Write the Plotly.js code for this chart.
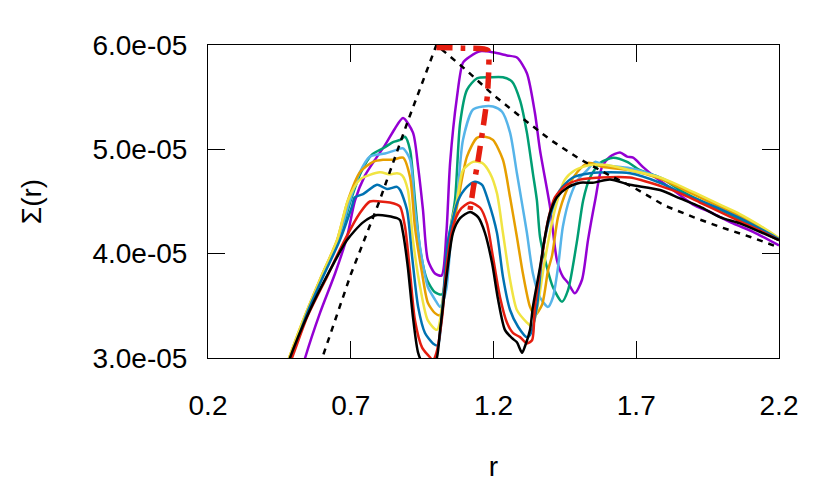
<!DOCTYPE html>
<html>
<head>
<meta charset="utf-8">
<script src="https://cdn.plot.ly/plotly-3.0.1.min.js"></script>
<style>html,body{margin:0;padding:0;background:#fff;}#plot{width:830px;height:498px;}</style>
</head>
<body>
<div id="plot"></div>
<script>
// Sigma values in units of 1e-5
const xTickVals = [0.2, 0.7, 1.2, 1.7, 2.2];
const xTickText = ['0.2', '0.7', '1.2', '1.7', '2.2'];
const yTickVals = [3, 4, 5, 6];
const yTickText = ['3.0e-05', '4.0e-05', '5.0e-05', '6.0e-05'];

const rPurple = [0.52,0.54,0.592,0.645,0.687,0.715,0.75,0.785,0.82,0.855,0.883,0.918,0.936,0.953,0.97,0.995,1.018,1.035,1.048,1.072,1.093,1.118,1.153,1.198,1.247,1.282,1.317,1.345,1.363,1.398,1.422,1.443,1.461,1.485,1.51,1.531,1.556,1.58,1.608,1.643,1.668,1.689,1.724,1.759,1.829,1.899,1.958,2.039,2.109,2.2];
const sPurple = [2.80,3.00,3.43,3.81,4.16,4.51,4.75,4.90,5.04,5.20,5.30,5.16,4.83,4.42,3.94,3.81,3.79,4.20,4.87,5.50,5.83,5.89,5.94,5.93,5.90,5.88,5.73,5.35,4.99,4.45,3.94,3.78,3.72,3.62,3.75,4.13,4.51,4.83,4.93,4.97,4.93,4.92,4.83,4.75,4.61,4.47,4.40,4.29,4.21,4.08];

const rGreen = [0.47,0.491,0.543,0.599,0.659,0.70,0.736,0.774,0.82,0.848,0.873,0.89,0.908,0.925,0.943,0.967,0.995,1.02,1.04,1.065,1.083,1.107,1.142,1.188,1.233,1.265,1.293,1.317,1.338,1.352,1.363,1.387,1.408,1.44,1.461,1.493,1.514,1.538,1.573,1.619,1.668,1.713,1.783,1.853,1.923,2.018,2.109,2.2];
const sGreen = [2.85,3.00,3.39,3.77,4.13,4.51,4.78,4.95,5.02,5.07,5.09,5.12,4.99,4.51,4.04,3.75,3.63,3.61,4.10,4.51,5.25,5.57,5.68,5.69,5.69,5.65,5.47,5.16,4.77,4.51,4.16,3.87,3.68,3.54,3.65,4.13,4.51,4.73,4.87,4.92,4.88,4.80,4.73,4.61,4.51,4.39,4.26,4.13];

const rLightBlue = [0.47,0.487,0.54,0.596,0.655,0.697,0.732,0.767,0.82,0.855,0.883,0.908,0.925,0.95,0.97,0.995,1.013,1.034,1.051,1.072,1.093,1.128,1.163,1.198,1.23,1.258,1.282,1.30,1.317,1.338,1.363,1.391,1.408,1.426,1.443,1.468,1.496,1.528,1.556,1.584,1.678,1.783,1.853,1.923,1.993,2.063,2.133,2.2];
const sLightBlue = [2.85,3.00,3.39,3.77,4.13,4.51,4.78,4.93,4.96,4.99,5.01,4.90,4.42,3.94,3.68,3.56,3.49,3.65,4.13,4.51,5.09,5.38,5.41,5.41,5.36,5.16,4.77,4.48,4.20,3.81,3.58,3.49,3.58,3.87,4.26,4.54,4.71,4.80,4.88,4.85,4.82,4.73,4.64,4.55,4.46,4.36,4.25,4.13];

const rOrange = [0.465,0.484,0.533,0.592,0.652,0.69,0.732,0.778,0.813,0.848,0.883,0.908,0.925,0.95,0.97,0.995,1.013,1.04,1.076,1.107,1.142,1.17,1.198,1.233,1.258,1.282,1.303,1.328,1.345,1.37,1.391,1.405,1.426,1.457,1.493,1.531,1.584,1.678,1.783,1.853,1.923,1.993,2.063,2.133,2.2];
const sOrange = [2.85,3.00,3.36,3.75,4.13,4.51,4.78,4.88,4.90,4.90,4.92,4.73,4.25,3.81,3.53,3.43,3.41,3.94,4.51,4.93,5.11,5.12,5.09,4.90,4.54,4.16,3.81,3.49,3.41,3.51,3.84,3.98,4.35,4.61,4.78,4.87,4.83,4.80,4.72,4.63,4.54,4.45,4.36,4.25,4.14];

const rYellow = [0.465,0.484,0.533,0.592,0.652,0.69,0.732,0.802,0.837,0.862,0.88,0.90,0.918,0.943,0.97,1.002,1.03,1.055,1.072,1.093,1.128,1.16,1.188,1.212,1.233,1.258,1.282,1.317,1.335,1.352,1.38,1.415,1.45,1.485,1.538,1.598,1.678,1.783,1.853,1.923,1.993,2.063,2.133,2.2];
const sYellow = [2.85,3.00,3.36,3.75,4.13,4.51,4.71,4.78,4.76,4.77,4.75,4.61,4.13,3.68,3.36,3.27,3.75,4.32,4.51,4.80,4.88,4.87,4.77,4.58,4.20,3.75,3.46,3.34,3.30,3.46,3.94,4.42,4.71,4.80,4.85,4.85,4.80,4.73,4.65,4.56,4.47,4.38,4.27,4.15];

const rBlue = [0.47,0.491,0.547,0.603,0.662,0.704,0.714,0.743,0.792,0.827,0.862,0.873,0.897,0.915,0.936,0.96,0.988,1.005,1.02,1.04,1.076,1.107,1.135,1.16,1.181,1.212,1.233,1.258,1.286,1.317,1.328,1.352,1.373,1.405,1.433,1.478,1.538,1.608,1.678,1.783,1.853,1.923,1.993,2.063,2.133,2.2];
const sBlue = [2.85,3.00,3.43,3.78,4.13,4.45,4.54,4.57,4.66,4.62,4.64,4.61,4.42,3.97,3.49,3.24,3.14,3.12,3.45,4.10,4.51,4.64,4.69,4.66,4.51,4.20,3.78,3.46,3.30,3.20,3.22,3.49,4.04,4.42,4.61,4.73,4.77,4.78,4.77,4.68,4.59,4.51,4.43,4.34,4.24,4.14];

const rRed = [0.47,0.494,0.547,0.617,0.673,0.732,0.767,0.802,0.837,0.862,0.873,0.89,0.908,0.925,0.95,0.97,0.988,1.0,1.02,1.037,1.058,1.083,1.118,1.153,1.177,1.198,1.223,1.247,1.268,1.293,1.317,1.335,1.345,1.37,1.391,1.415,1.457,1.503,1.573,1.678,1.783,1.853,1.923,1.993,2.063,2.133,2.2];
const sRed = [2.85,3.00,3.39,3.78,4.10,4.39,4.50,4.50,4.49,4.47,4.45,4.26,3.81,3.36,3.10,3.03,2.98,3.05,3.39,3.91,4.26,4.42,4.49,4.44,4.29,3.97,3.58,3.34,3.24,3.20,3.14,3.17,3.49,3.97,4.32,4.54,4.66,4.71,4.73,4.73,4.65,4.58,4.49,4.40,4.31,4.22,4.13];

const rBlack = [0.47,0.487,0.557,0.627,0.687,0.743,0.792,0.862,0.873,0.883,0.90,0.918,0.936,0.953,0.995,1.013,1.037,1.058,1.083,1.118,1.146,1.17,1.195,1.216,1.24,1.265,1.282,1.30,1.31,1.328,1.338,1.363,1.38,1.398,1.422,1.457,1.503,1.548,1.608,1.678,1.783,1.853,1.923,1.993,2.063,2.133,2.2];
const sBlack = [2.85,3.00,3.46,3.84,4.13,4.30,4.37,4.34,4.32,4.20,3.87,3.39,3.05,2.95,2.95,3.27,3.81,4.20,4.34,4.40,4.35,4.20,3.91,3.56,3.27,3.19,3.15,3.05,3.11,3.27,3.49,3.87,4.16,4.39,4.54,4.63,4.68,4.68,4.71,4.66,4.61,4.53,4.45,4.35,4.29,4.21,4.13];

const rDashed = [0.55,0.6,0.7,0.8,0.9,1.0,1.1,1.2,1.3,1.4,1.5,1.6,1.7,1.8,1.9,2.0,2.1,2.2];
const sDashed = [2.6,3.0,3.8,4.5,5.27,6.0,5.77,5.52,5.30,5.09,4.91,4.76,4.62,4.46,4.35,4.25,4.16,4.06];

const rPeak = [1.0,1.09,1.18,1.183,1.178,1.162,1.145,1.13,1.118];
const sPeak = [5.975,5.97,5.95,5.75,5.50,5.18,4.88,4.64,4.42];

const curves = [
  {x: rPurple, y: sPurple, c: '#9400D3'},
  {x: rGreen, y: sGreen, c: '#009E73'},
  {x: rLightBlue, y: sLightBlue, c: '#56B4E9'},
  {x: rOrange, y: sOrange, c: '#E69F00'},
  {x: rYellow, y: sYellow, c: '#F0E442'},
  {x: rBlue, y: sBlue, c: '#0072B2'},
  {x: rRed, y: sRed, c: '#E51E10'},
  {x: rBlack, y: sBlack, c: '#000000'}
];

const traces = curves.map(cv => ({
  x: cv.x, y: cv.y, type: 'scatter', mode: 'lines',
  line: {color: cv.c, width: 2.5, shape: 'spline', smoothing: 0.7},
  hoverinfo: 'skip', showlegend: false
}));
traces.push({x: rDashed, y: sDashed, type: 'scatter', mode: 'lines',
  line: {color: '#000000', width: 2.5, dash: '6px,6px'}, showlegend: false, hoverinfo: 'skip'});
traces.push({x: rPeak, y: sPeak, type: 'scatter', mode: 'lines',
  line: {color: '#E51E10', width: 5.5, dash: '16px,8px,5px,8px', shape: 'spline', smoothing: 0.5}, showlegend: false, hoverinfo: 'skip'});

const fontFam = 'Liberation Sans, Arial, sans-serif';
const layout = {
  width: 830, height: 498,
  margin: {l: 208, r: 51, t: 45, b: 140},
  paper_bgcolor: '#fff', plot_bgcolor: '#fff',
  font: {family: fontFam, size: 28, color: '#000'},
  showlegend: false,
  xaxis: {
    range: [0.2, 2.2], tickvals: xTickVals, ticktext: xTickText,
    ticks: 'inside', ticklen: 17, tickwidth: 1, tickcolor: '#000',
    showline: true, linecolor: '#000', linewidth: 1, mirror: 'ticks',
    showgrid: false, zeroline: false, ticklabelstandoff: 22,
    tickfont: {family: fontFam, size: 28, color: '#000'},
    title: {text: 'r', font: {family: fontFam, size: 28, color: '#000'}, standoff: 36}
  },
  yaxis: {
    range: [3, 6], tickvals: yTickVals, ticktext: yTickText,
    ticks: 'inside', ticklen: 17, tickwidth: 1, tickcolor: '#000',
    showline: true, linecolor: '#000', linewidth: 1, mirror: 'ticks',
    showgrid: false, zeroline: false, ticklabelstandoff: 14,
    tickfont: {family: fontFam, size: 28, color: '#000'},
    title: {text: 'Σ(r)', font: {family: fontFam, size: 28, color: '#000'}, standoff: 42}
  }
};

Plotly.newPlot('plot', traces, layout, {displayModeBar: false, staticPlot: true});
</script>
</body>
</html>
